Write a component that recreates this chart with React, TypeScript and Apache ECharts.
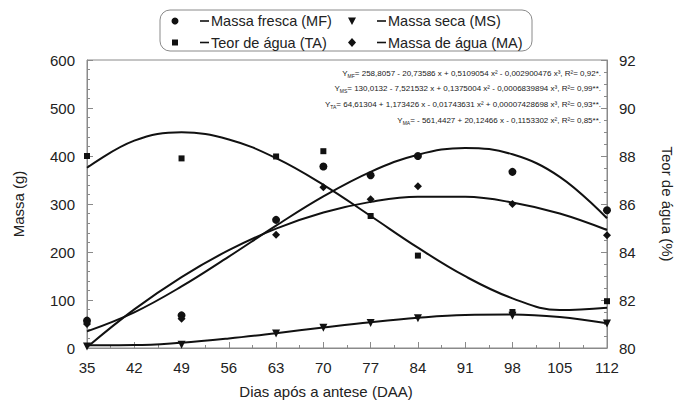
import React, { useEffect, useRef } from "react";
import * as echarts from "echarts";

// Observed data (days after anthesis)
const days = [35, 49, 63, 70, 77, 84, 98, 112];
const mfObs = [57, 68, 267, 378, 360, 400, 367, 287];
const msObs = [3, 7, 30, 42, 52, 62, 67, 51];
const taObs = [88.0, 87.9, 87.98, 88.2, 85.5, 83.85, 81.5, 81.95];
const maObs = [50, 61, 236, 335, 310, 337, 300, 235];

// Fitted curves at each 7-day tick
const curveDays = [35, 42, 49, 56, 63, 70, 77, 84, 91, 98, 105, 112];
const mfFit = [34.6, 74.3, 128.2, 190.4, 255.0, 315.9, 367.1, 402.8, 416.9, 403.5, 356.6, 270.2];
const msFit = [5.9, 6.0, 11.1, 19.9, 30.9, 42.7, 53.8, 63.0, 68.8, 69.7, 64.4, 51.5];
const taFit = [87.51, 88.64, 88.99, 88.69, 87.91, 86.8, 85.5, 84.18, 82.99, 82.07, 81.58, 81.68];
const maFit = [1.6, 80.4, 147.8, 203.9, 248.7, 282.2, 304.4, 315.3, 314.9, 303.1, 280.1, 245.8];

const xTicks = [35, 112, 7];
const yLeft = [0, 600, 100];
const yRight = [80, 92, 2];

const equations = [
  ["Y", "MF", "= 258,8057 - 20,73586 x + 0,5109054 x² - 0,002900476 x³, R²= 0,92*."],
  ["Y", "MS", "= 130,0132 - 7,521532 x + 0,1375004 x² - 0,0006839894 x³, R²= 0,99**."],
  ["Y", "TA", "= 64,61304 + 1,173426 x - 0,01743631 x² + 0,00007428698 x³, R²= 0,93**."],
  ["Y", "MA", "= - 561,4427 + 20,12466 x - 0,1153302 x², R²= 0,85**."],
];

const FONT = "'Liberation Sans', Arial, Helvetica, sans-serif";
const INK = "#111";
const AXIS = "#8a8a8a";

const pairs = (xs: number[], ys: number[]) => xs.map((x, i) => [x, ys[i]]);

export default function App() {
  const ref = useRef<HTMLDivElement>(null);
  useEffect(() => {
    if (!ref.current) return;
    const chart = echarts.init(ref.current, undefined, { renderer: "svg" });
    const axisCommon = {
      axisLine: { show: true, lineStyle: { color: AXIS, width: 1 } },
      axisTick: { show: true, inside: true, length: 6, lineStyle: { color: AXIS } },
      splitLine: { show: false },
      axisLabel: { color: "#222", fontSize: 15, fontFamily: FONT, margin: 12 },
    };
    const lineSeries = (data: number[], axis = 0) => ({
      type: "line",
      yAxisIndex: axis,
      data: pairs(curveDays, data),
      smooth: 0.4,
      showSymbol: false,
      symbol: "none",
      lineStyle: { color: INK, width: 2 },
      z: 2,
    });
    const scat = (data: number[], symbol: string, size: number, axis = 0, rot = 0) => ({
      type: "scatter",
      yAxisIndex: axis,
      data: pairs(days, data),
      symbol,
      symbolSize: size,
      symbolRotate: rot,
      itemStyle: { color: INK, opacity: 1 },
      z: 3,
    });
    const lg: any[] = [
      { type: "rect", shape: { x: 160, y: 10, width: 372, height: 41, r: 10 }, style: { fill: "none", stroke: AXIS, lineWidth: 1 } },
      { type: "circle", shape: { cx: 175, cy: 21, r: 3.5 }, style: { fill: INK } },
      { type: "polygon", shape: { points: [[348, 17.5], [356, 17.5], [352, 25]] }, style: { fill: INK } },
      { type: "rect", shape: { x: 172, y: 39.5, width: 6, height: 6 }, style: { fill: INK } },
      { type: "polygon", shape: { points: [[352, 38], [356, 42.5], [352, 47], [348, 42.5]] }, style: { fill: INK } },
    ];
    const legendItems: [number, number, string][] = [
      [200, 21, "Massa fresca (MF)"],
      [377, 21, "Massa seca (MS)"],
      [200, 42.5, "Teor de água (TA)"],
      [377, 42.5, "Massa de água (MA)"],
    ];
    legendItems.forEach(([x, y, t]) => {
      lg.push({ type: "line", shape: { x1: x, y1: y, x2: x + 9, y2: y }, style: { stroke: INK, lineWidth: 1.6 } });
      lg.push({ type: "text", x: x + 11, y, style: { text: t, fill: "#222", font: `14.5px ${FONT}`, align: "left", verticalAlign: "middle" } });
    });
    const eqY = [73, 88.5, 104.5, 120.5];
    equations.forEach((e, i) => {
      lg.push({
        type: "text",
        x: 601,
        y: eqY[i],
        style: {
          text: `{n|${e[0]}}{s|${e[1]}}{n|${e[2]}}`,
          align: "right",
          verticalAlign: "middle",
          rich: {
            n: { fontSize: 8, fontFamily: FONT, fill: "#1a1a1a", lineHeight: 10, verticalAlign: "middle" },
            s: { fontSize: 5, fontFamily: FONT, fill: "#1a1a1a", lineHeight: 10, verticalAlign: "bottom" },
          },
        },
      });
    });
    lg.push({ type: "text", x: 326, y: 391, style: { text: "Dias após a antese (DAA)", fill: "#222", font: `15px ${FONT}`, align: "center", verticalAlign: "middle" } });
    lg.push({ type: "text", x: 18, y: 204, rotation: Math.PI / 2, style: { text: "Massa (g)", fill: "#222", font: `15px ${FONT}`, align: "center", verticalAlign: "middle" } });
    lg.push({ type: "text", x: 667, y: 204, rotation: -Math.PI / 2, style: { text: "Teor de água (%)", fill: "#222", font: `15px ${FONT}`, align: "center", verticalAlign: "middle" } });

    chart.setOption({
      animation: false,
      backgroundColor: "#fff",
      grid: { left: 87, right: 73, top: 60, bottom: 54, show: true, borderColor: AXIS, borderWidth: 1, containLabel: false },
      xAxis: {
        type: "value",
        min: xTicks[0],
        max: xTicks[1],
        interval: xTicks[2],
        ...axisCommon,
        minorTick: { show: true, splitNumber: 2, length: 3, lineStyle: { color: AXIS } },
      },
      yAxis: [
        {
          type: "value",
          min: yLeft[0],
          max: yLeft[1],
          interval: yLeft[2],
          position: "left",
          ...axisCommon,
          minorTick: { show: true, splitNumber: 5, length: 3, lineStyle: { color: AXIS } },
        },
        {
          type: "value",
          min: yRight[0],
          max: yRight[1],
          interval: yRight[2],
          position: "right",
          ...axisCommon,
          minorTick: { show: true, splitNumber: 4, length: 3, lineStyle: { color: AXIS } },
        },
      ],
      series: [
        lineSeries(mfFit),
        lineSeries(msFit),
        lineSeries(maFit),
        lineSeries(taFit, 1),
        scat(mfObs, "circle", 8),
        scat(msObs, "triangle", 8, 0, 180),
        scat(taObs, "rect", 6, 1),
        scat(maObs, "diamond", 8),
      ],
      graphic: lg,
    });
    return () => chart.dispose();
  }, []);
  return <div ref={ref} style={{ position: "fixed", left: 0, top: 0, width: 680, height: 402 }} />;
}
